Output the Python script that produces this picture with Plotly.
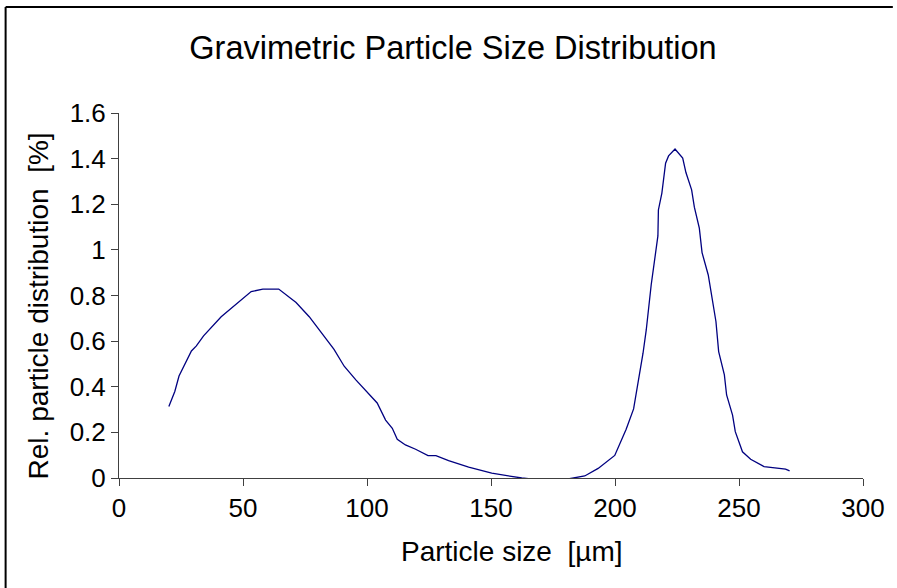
import plotly.graph_objects as go

particle_size = [20.1, 22.5, 24.2, 29.2, 31.2, 34.1, 41.2, 45.9, 53.3, 58.0, 64.4,
                 71.4, 76.7, 86.7, 90.8, 95.5, 104.1, 107.5, 110.2, 112.2, 115.5,
                 119.6, 124.6, 127.8, 132.9, 141.0, 150.3, 162.4, 169.1, 178.4,
                 187.8, 193.2, 199.9, 204.5, 207.5, 211.3, 212.6, 214.6, 216.0,
                 217.3, 217.5, 218.9, 220.4, 221.6, 224.2, 227.3, 228.6, 230.9,
                 232.0, 234.0, 235.1, 237.6, 240.7, 241.8, 244.1, 245.0, 247.4,
                 248.5, 251.4, 254.7, 260.1, 268.8, 270.4]
rel_distribution = [0.313, 0.379, 0.447, 0.557, 0.579, 0.623, 0.707, 0.751, 0.817,
                    0.828, 0.828, 0.769, 0.707, 0.564, 0.490, 0.430, 0.329, 0.254,
                    0.218, 0.170, 0.145, 0.126, 0.098, 0.098, 0.076, 0.048, 0.021,
                    0.0, -0.007, -0.009, 0.009, 0.042, 0.099, 0.214, 0.303, 0.547,
                    0.649, 0.847, 0.956, 1.061, 1.175, 1.249, 1.380, 1.412, 1.442,
                    1.402, 1.339, 1.263, 1.187, 1.095, 0.988, 0.890, 0.686, 0.554,
                    0.452, 0.364, 0.276, 0.203, 0.115, 0.082, 0.050, 0.039, 0.031]

x_ticks = [0, 50, 100, 150, 200, 250, 300]
y_ticks = [0, 0.2, 0.4, 0.6, 0.8, 1, 1.2, 1.4, 1.6]
y_tick_text = ["0", "0.2", "0.4", "0.6", "0.8", "1", "1.2", "1.4", "1.6"]

FONT = "Arial, Liberation Sans, sans-serif"
W, H = 897, 588
L, R, T, B = 119, 30, 113, 110
pw, ph = W - L - R, H - T - B

fig = go.Figure()
fig.add_trace(go.Scatter(x=particle_size, y=rel_distribution, mode="lines",
                         line=dict(color="#000080", width=1.3), showlegend=False,
                         hoverinfo="x+y"))

fig.update_layout(
    width=W, height=H,
    margin=dict(l=L, r=R, t=T, b=B),
    paper_bgcolor="white", plot_bgcolor="white",
    font=dict(family=FONT, color="black"),
    title=dict(text="Gravimetric Particle Size Distribution",
               x=453 / W, xanchor="center", xref="container",
               y=1 - 48 / H, yanchor="middle", yref="container",
               font=dict(size=32.5, family=FONT, color="black")),
)

fig.update_xaxes(range=[0, 300], tickvals=x_ticks, ticktext=[str(v) for v in x_ticks],
                 showgrid=False, zeroline=False, showline=True, linecolor="#404040",
                 linewidth=1, ticks="outside", ticklen=7, tickcolor="#404040",
                 tickfont=dict(size=26, family=FONT, color="black"), fixedrange=True)
fig.update_yaxes(range=[0, 1.6], tickvals=y_ticks, ticktext=y_tick_text,
                 showgrid=False, zeroline=False, showline=True, linecolor="#404040",
                 linewidth=1, ticks="outside", ticklen=7, tickcolor="#404040",
                 tickfont=dict(size=26, family=FONT, color="black"), fixedrange=True)

# axis titles
fig.add_annotation(text="Particle size  [µm]", xref="paper", yref="paper",
                   x=(514 - L) / pw, y=(H - B - 551) / ph, xanchor="center", yanchor="middle",
                   showarrow=False, font=dict(size=28, family=FONT, color="black"))
fig.add_annotation(text="Rel. particle distribution  [%]", xref="paper", yref="paper",
                   x=(38 - L) / pw, y=(H - B - 306) / ph, xanchor="center", yanchor="middle",
                   textangle=-90, showarrow=False,
                   font=dict(size=28, family=FONT, color="black"))

# outer chart frame: only its left and top edges fall inside the picture
bx0, by_top = (5 - L) / pw, (H - B - 7) / ph
fig.add_shape(type="line", xref="paper", yref="paper",
              x0=bx0, x1=bx0, y0=(H - B - H) / ph, y1=by_top,
              line=dict(color="black", width=2), layer="below")
fig.add_shape(type="line", xref="paper", yref="paper",
              x0=bx0, x1=(W - L) / pw, y0=by_top, y1=by_top,
              line=dict(color="black", width=2), layer="below")

fig.write_html(
    "out.html",
    config={"displayModeBar": False},
    post_script="document.documentElement.style.overflow='hidden';"
                "document.body.style.overflow='hidden';document.body.style.margin='0';",
)
